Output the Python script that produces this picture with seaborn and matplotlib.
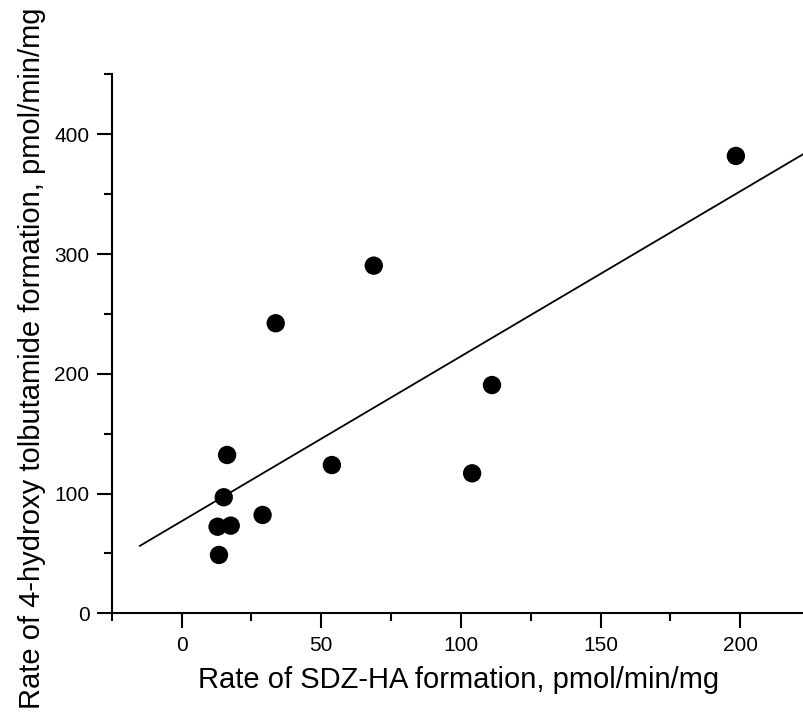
import numpy as np
import pandas as pd
import matplotlib
matplotlib.use("Agg")
import matplotlib.pyplot as plt
import matplotlib.transforms as mtransforms
from matplotlib.ticker import MultipleLocator
import seaborn as sns

# Data
sdz_ha = [16.3, 53.8, 15.1, 29.0, 12.9, 17.6, 13.4, 33.7, 68.8, 104.0, 111.1, 198.4]
tolb_oh = [132.2, 123.8, 96.9, 82.1, 72.3, 73.2, 48.7, 242.2, 290.3, 116.9, 190.6, 381.9]
fit_range = [-15, 225]
x_ticks = [0, 50, 100, 150, 200]
y_ticks = [0, 100, 200, 300, 400]

x_label = "Rate of SDZ-HA formation, pmol/min/mg"
y_label = "Rate of 4-hydroxy tolbutamide formation, pmol/min/mg"

df = pd.DataFrame({"x": sdz_ha, "y": tolb_oh})
slope, intercept = np.polyfit(df["x"], df["y"], 1)
fit_x = np.linspace(fit_range[0], fit_range[1], 50)
fit_df = pd.DataFrame({"x": fit_x, "y": slope * fit_x + intercept})

sns.set_style("ticks")
plt.rcParams["font.family"] = ["Liberation Sans", "DejaVu Sans"]
plt.rcParams["text.color"] = "black"
plt.rcParams["axes.labelcolor"] = "black"
plt.rcParams["xtick.color"] = "black"
plt.rcParams["ytick.color"] = "black"

W, H = 804, 719
fig = plt.figure(figsize=(W / 100, H / 100), dpi=100)
left_px, bottom_px, top_px = 111.7, 613.3, 74.4
xmin, xmax = -25, 225
px_per_unit = 2.794
right_px = left_px + (xmax - xmin) * px_per_unit
ax = fig.add_axes([left_px / W, 1 - bottom_px / H, (right_px - left_px) / W, (bottom_px - top_px) / H])

sns.lineplot(data=fit_df, x="x", y="y", ax=ax, color="black", linewidth=1.3)
sns.scatterplot(data=df, x="x", y="y", ax=ax, color="black", s=175, edgecolor="none", zorder=3)

ax.set_xlim(xmin, xmax)
ax.set_ylim(0, 450)
ax.set_xticks(x_ticks)
ax.set_yticks(y_ticks)
ax.xaxis.set_minor_locator(MultipleLocator(25))
ax.yaxis.set_minor_locator(MultipleLocator(50))

for s in ["top", "right"]:
    ax.spines[s].set_visible(False)
for s in ["left", "bottom"]:
    ax.spines[s].set_linewidth(1.5)
    ax.spines[s].set_color("black")

ax.tick_params(axis="both", which="major", direction="out", length=11, width=1.5,
               labelsize=15, colors="black", pad=5)
ax.tick_params(axis="both", which="minor", direction="out", length=6, width=1.5, colors="black")

ax.set_xlabel(x_label, fontsize=21, color="black")
ax.set_ylabel(y_label, fontsize=21, color="black")
ax.xaxis.set_label_coords(0.497, 1 - 666 / H,
                          transform=mtransforms.blended_transform_factory(ax.transAxes, fig.transFigure))
ax.yaxis.set_label_coords(46 / W, 361 / H, transform=fig.transFigure)

fig.savefig("out.png", dpi=100)
